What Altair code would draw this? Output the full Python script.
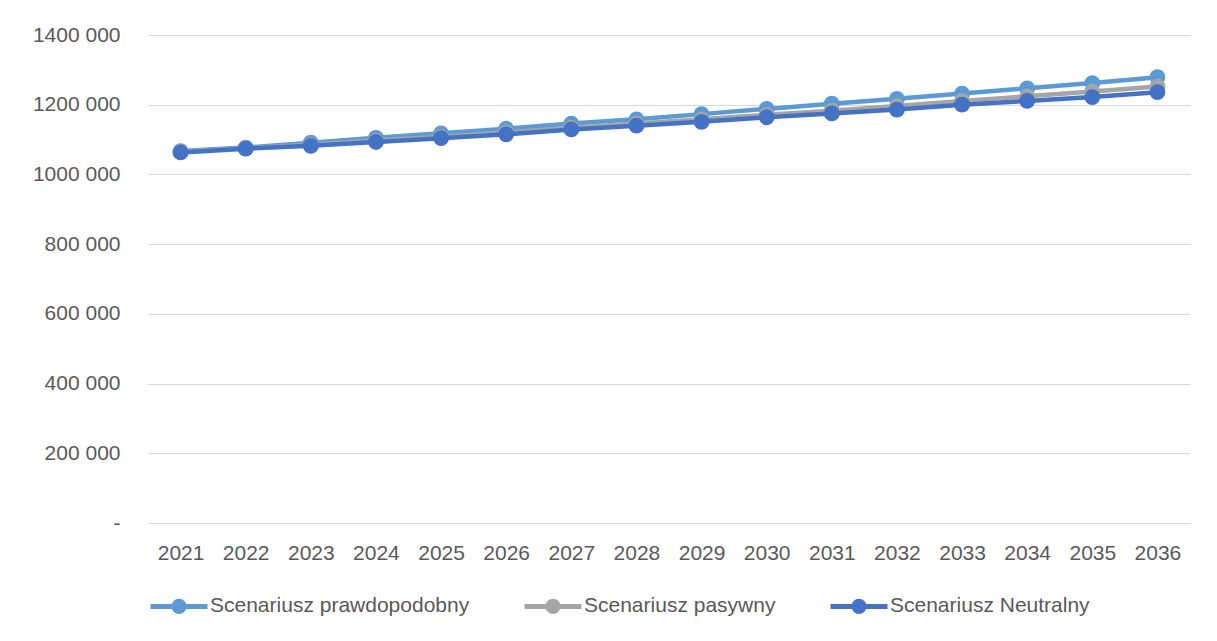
import altair as alt
import pandas as pd

years = [str(y) for y in range(2021, 2037)]
prawdopodobny = [1067000, 1077000, 1091000, 1105000, 1118000, 1131000, 1146000, 1158000,
                 1173000, 1188000, 1203000, 1217000, 1232000, 1247000, 1262000, 1279000]
pasywny = [1065000, 1075000, 1085000, 1097000, 1108000, 1120000, 1134000, 1146000,
           1158000, 1171000, 1183000, 1196000, 1211000, 1224000, 1238000, 1252000]
neutralny = [1063000, 1074000, 1082000, 1093000, 1104000, 1115000, 1129000, 1140000,
             1151000, 1164000, 1175000, 1186000, 1200000, 1211000, 1222000, 1236000]

series_names = ["Scenariusz prawdopodobny", "Scenariusz pasywny", "Scenariusz Neutralny"]
series_colors = ["#5B9BD5", "#A5A5A5", "#4472C4"]

rows = []
for i, (name, vals) in enumerate(zip(series_names, [prawdopodobny, pasywny, neutralny])):
    for y, v in zip(years, vals):
        rows.append({"Rok": y, "Wartość": v, "Scenariusz": name, "order": i})
df = pd.DataFrame(rows)

FONT = "Liberation Sans"
FS = 21
symbol_path = ("M-1,0L1,0"
               "M-0.18,0A0.18,0.18 0 1,1 0.18,0A0.18,0.18 0 1,1 -0.18,0"
               "M-0.08,0A0.08,0.08 0 1,1 0.08,0A0.08,0.08 0 1,1 -0.08,0")
color = alt.Color(
    "Scenariusz:N",
    scale=alt.Scale(domain=series_names, range=series_colors),
    sort=series_names,
    legend=alt.Legend(
        title=None, orient="bottom", direction="horizontal",
        symbolType=symbol_path,
        symbolSize=3249, symbolStrokeWidth=5,
        labelFont=FONT, labelFontSize=FS, labelColor="#595959", labelLimit=0,
        columnPadding=44, labelOffset=0, offset=12,
    ),
)

x = alt.X("Rok:O", title=None, scale=alt.Scale(type="point", padding=0.5),
          axis=alt.Axis(labelAngle=0, ticks=False, domain=False, grid=False,
                        labelFont=FONT, labelFontSize=FS, labelColor="#595959", labelPadding=19))
y = alt.Y("Wartość:Q", title=None, scale=alt.Scale(domain=[0, 1400000], nice=False),
          axis=alt.Axis(values=[0, 200000, 400000, 600000, 800000, 1000000, 1200000, 1400000],
                        labelExpr="datum.value == 0 ? '-' : floor(datum.value/1000) + ' 000'",
                        ticks=False, domain=False, gridColor="#D9D9D9", gridWidth=1,
                        labelFont=FONT, labelFontSize=FS, labelColor="#595959", labelPadding=28))

layers = []
for i, name in enumerate(series_names):
    sub = alt.Chart(df[df["Scenariusz"] == name])
    layers.append(sub.mark_line(strokeWidth=4.5).encode(x=x, y=y, color=color))
    layers.append(sub.mark_circle(size=250, opacity=1).encode(x=x, y=y, color=color))

chart = alt.layer(*layers).properties(
    width=1042, height=488,
    padding={"left": 24, "top": 16, "right": 10, "bottom": 5},
).configure(background="white").configure_view(strokeWidth=0)

chart.save("out.html", embed_options={"renderer": "svg", "actions": False})
